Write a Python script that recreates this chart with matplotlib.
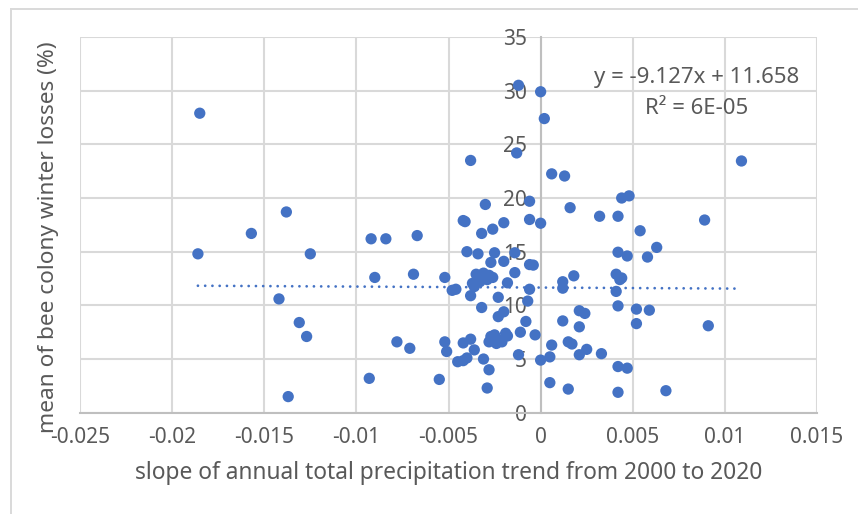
import numpy as np
import matplotlib
matplotlib.use("Agg")
import matplotlib.pyplot as plt
from matplotlib.lines import Line2D

# slope of annual precipitation trend vs mean winter colony losses (%)
slope_left = [-0.0185, -0.0186, -0.0157, -0.0138, -0.0125, -0.0092, -0.0084, -0.0067,
              -0.0090, -0.0069, -0.0142, -0.0131, -0.0127, -0.0078, -0.0071, -0.0093,
              -0.0137, -0.0055, -0.0052]
loss_left = [27.9, 14.8, 16.7, 18.7, 14.8, 16.2, 16.2, 16.5,
             12.6, 12.9, 10.6, 8.4, 7.1, 6.6, 6.0, 3.2,
             1.5, 3.1, 12.6]

slope_mid = [-0.0012, -0.0013, -0.0038, -0.0030, -0.0006, -0.0042, -0.0041, -0.0032,
             -0.0026, -0.0020, -0.0006, -0.0040, -0.0034, -0.0025, -0.0027, -0.0020,
             -0.0014, -0.0006, -0.0004, -0.0014,
             -0.0035, -0.0031, -0.0028, -0.0033, -0.0029, -0.0026, -0.0037, -0.0036,
             -0.0018, -0.0048, -0.0046, -0.0038, -0.0023, -0.0006, -0.0007, -0.0032,
             -0.0023, -0.0020, -0.0008, -0.0011, -0.0003, -0.0052, -0.0051, -0.0042,
             -0.0038, -0.0036,
             -0.0027, -0.0028, -0.0023, -0.0024, -0.0019, -0.0018, -0.0025, -0.0021,
             -0.0045, -0.0042, -0.0040, -0.0031, -0.0028, -0.0029, -0.0012, 0.0000]
loss_mid = [30.5, 24.2, 23.5, 19.4, 19.7, 17.9, 17.8, 16.7,
            17.1, 17.7, 18.0, 15.0, 14.8, 14.9, 14.0, 14.1,
            14.9, 13.8, 13.75, 13.05,
            12.9, 13.0, 12.8, 12.2, 12.4, 12.6, 12.05, 11.75,
            12.1, 11.4, 11.5, 10.9, 10.75, 11.5, 10.4, 9.8,
            8.95, 9.4, 8.5, 7.5, 7.25, 6.6, 5.7, 6.5,
            6.85, 5.85,
            7.1, 6.6, 6.8, 6.45, 7.4, 7.15, 7.25, 6.6,
            4.75, 4.85, 5.1, 5.0, 4.0, 2.3, 5.4, 4.9]

slope_right = [0.0000, 0.0002, 0.0000, 0.0006, 0.0013, 0.0044, 0.0048, 0.0016,
               0.0032, 0.0042, 0.0089, 0.0109, 0.0054, 0.0063, 0.0042, 0.0047,
               0.0058, 0.0012, 0.0012, 0.0018, 0.0041, 0.0043, 0.0044, 0.0041,
               0.0042, 0.0052, 0.0059, 0.0052, 0.0091, 0.0012, 0.0021, 0.0024,
               0.0021, 0.0006, 0.0015, 0.0017, 0.0025, 0.0021, 0.0033, 0.0005,
               0.0042, 0.0047, 0.0005, 0.0015, 0.0042, 0.0068]
loss_right = [29.9, 27.4, 17.65, 22.25, 22.05, 20.0, 20.2, 19.1,
              18.3, 18.3, 17.95, 23.45, 16.95, 15.4, 14.95, 14.6,
              14.5, 12.2, 11.6, 12.75, 12.9, 12.4, 12.55, 11.3,
              9.95, 9.65, 9.55, 8.3, 8.1, 8.55, 9.5, 9.25,
              8.0, 6.3, 6.6, 6.4, 5.9, 5.4, 5.5, 5.2,
              4.3, 4.15, 2.8, 2.2, 1.9, 2.05]

x = np.array(slope_left + slope_mid + slope_right)
y = np.array(loss_left + loss_mid + loss_right)

# Excel linear trendline as shown on the chart
trend_slope = -9.127
trend_intercept = 11.658

blue = "#4472C4"
grey_text = "#595959"
grid_col = "#D9D9D9"

plt.rcParams["font.family"] = ["Noto Sans", "DejaVu Sans"]

W, H = 858, 514
fig = plt.figure(figsize=(W / 100, H / 100), dpi=100)

# chart area border (only top and left edges fall inside the picture)
fig.lines.append(Line2D([11 / W, 11 / W], [0, 1 - 9 / H], transform=fig.transFigure,
                        color=grid_col, linewidth=1.4))
fig.lines.append(Line2D([11 / W, 1], [1 - 9 / H, 1 - 9 / H], transform=fig.transFigure,
                        color=grid_col, linewidth=1.4))

left, right, top, bottom = 80, 817, 37, 412.7
ax = fig.add_axes([left / W, 1 - bottom / H, (right - left) / W, (bottom - top) / H])

ax.set_xlim(-0.025, 0.015)
ax.set_ylim(0, 35)
ax.set_xticks(np.arange(-0.025, 0.0151, 0.005))
ax.set_xticklabels(["-0.025", "-0.02", "-0.015", "-0.01", "-0.005", "0", "0.005", "0.01", "0.015"])
ax.set_yticks(np.arange(0, 36, 5))

ax.grid(True, color=grid_col, linewidth=1.5)
ax.set_axisbelow(True)

for s in ["top", "right"]:
    ax.spines[s].set_visible(False)
ax.spines["left"].set_position(("data", 0))
ax.spines["left"].set_color("#BFBFBF")
ax.spines["left"].set_linewidth(1.5)
ax.spines["bottom"].set_color("#BFBFBF")
ax.spines["bottom"].set_linewidth(1.5)
ax.tick_params(length=0, colors=grey_text, labelsize=15)
ax.tick_params(axis="x", pad=10)
ax.tick_params(axis="y", pad=10)

ax.scatter(x, y, s=66, color=blue, edgecolors="none", zorder=3)

xs = np.array([x.min(), x.max()])
ax.plot(xs, trend_slope * xs + trend_intercept, color=blue, linewidth=2.0,
        linestyle=(0, (0.01, 2.6)), dash_capstyle="round", zorder=2)

ax.text(697 / W, 1 - 77 / H, "y = -9.127x + 11.658", transform=fig.transFigure,
        ha="center", va="center", fontsize=16, color=grey_text)
ax.text(697 / W, 1 - 108 / H, "R² = 6E-05", transform=fig.transFigure,
        ha="center", va="center", fontsize=16, color=grey_text)

fig.text(448.5 / W, 1 - 473 / H, "slope of annual total precipitation trend from 2000 to 2020",
         ha="center", va="center", fontsize=16.4, color=grey_text)
fig.text(49 / W, 1 - 237 / H, "mean of bee colony winter losses (%)", rotation=90,
         ha="center", va="center", fontsize=16.3, color=grey_text)

fig.savefig("out.png", dpi=100)
